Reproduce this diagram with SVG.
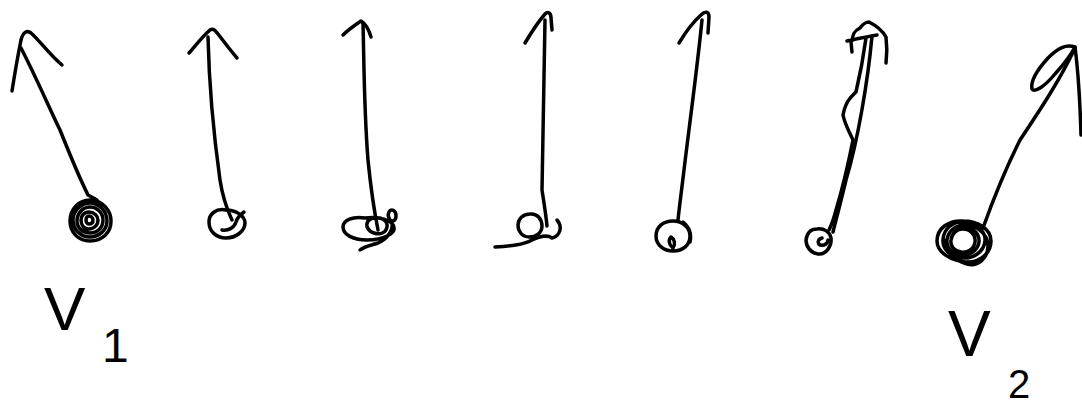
<svg xmlns="http://www.w3.org/2000/svg" width="1082" height="404" viewBox="0 0 1082 404">
<style>
.s{fill:none;stroke:#000;stroke-width:3.5;stroke-linecap:round;stroke-linejoin:round}
.t{font-family:"Liberation Sans",Arial,sans-serif;fill:#000}
</style>
<rect width="1082" height="404" fill="#fff"/>
<g id="v1">
<path class="s" d="M12 91 C15 72 18 55 21 40 C23 32 27 30 31 33 C40 41 50 55 62 65"/>
<path class="s" d="M21 48 C35 75 48 105 60 130 C70 155 78 175 88 195 L97 200"/>
<path class="s" d="M90 200 C102 200 111 210 111 221 C111 233 102 241 90 241 C78 241 70 232 70 221 C70 209 79 200 90 200 Z M90 203 C99 203 107 211 107 221 C107 230 99 237 90 237 C81 237 73 230 73 220 C73 210 82 203 90 203 M90 207 C97 207 103 213 103 220 C103 228 97 233 90 233 C83 233 77 228 77 221 C77 213 83 207 90 207 M89 212 C94 212 98 216 98 220 C98 225 94 229 89 229 C84 229 81 225 81 220 C81 216 84 212 89 212 M89 216 C91 216 93 218 93 220 C93 223 91 224 89 224 C87 224 86 222 86 220 C86 218 87 216 89 216"/>
</g>
<g id="v2">
<path class="s" d="M189 53 C196 45 202 37 210 30 C213 28 215 30 218 34 C225 43 231 51 237 58"/>
<path class="s" d="M208 37 C209 80 213 130 220 180 C224 205 230 215 232 220"/>
<path class="s" d="M226 210 C236 210 245 216 245 223 C245 231 236 238 226 238 C216 238 209 231 209 222 C209 214 216 208 226 210 Z M222 230 C228 231 234 228 236 222 C237 218 240 215 244 212"/>
</g>
<g id="v3">
<path class="s" d="M343 35 C348 30 355 25 361 21 C366 24 369 30 371 37"/>
<path class="s" d="M363 23 C364 60 364 110 368 160 C371 190 375 215 378 230"/>
<path class="s" d="M365 218 C379 216 392 220 394 227 C396 233 384 240 367 240 C352 240 343 234 343 227 C343 220 353 216 365 218 Z M375 218 C382 217 388 221 387 227 C386 233 380 235 374 233 C368 231 365 226 368 221 C370 219 372 218 375 218 M389 212 C391 208 396 210 396 216 C396 221 392 222 390 220 C388 217 388 214 389 212 M392 222 C394 232 385 240 378 243 C372 245 365 246 360 250"/>
</g>
<g id="v4">
<path class="s" d="M525 43 C531 33 538 22 545 14 C548 11 551 13 551 18 L552 30"/>
<path class="s" d="M545 20 C544 70 543 130 542 190 C544 203 546 215 547 226"/>
<path class="s" d="M530 214 C537 213 542 219 542 226 C542 233 536 237 529 237 C522 237 518 231 518 225 C518 219 523 214 530 214 Z M495 247 C510 246 523 245 532 240 C540 236 548 235 552 238 C560 236 563 227 557 220"/>
</g>
<g id="v5">
<path class="s" d="M679 43 C685 33 693 22 701 15 C705 11 709 11 709 17 L708 33"/>
<path class="s" d="M702 20 C697 70 690 120 684 170 C681 195 679 210 678 220"/>
<path class="s" d="M673 221 C683 221 690 228 690 236 C690 245 683 251 673 251 C664 251 656 245 656 236 C656 227 663 221 673 221 Z M673 248 C669 245 668 240 671 237 C674 239 676 243 673 248 M683 222 C688 226 692 233 690 242"/>
</g>
<g id="v6">
<path class="s" d="M847 41 C855 39 866 37 877 35"/>
<path class="s" d="M853 40 C852 36 854 31 860 28 C862 25 866 22 869 22 C875 25 882 30 886 37 C887 45 887 55 886 63"/>
<path class="s" d="M851 42 L852 52"/>
<path class="s" d="M872 36 C868 80 858 140 846 180 C840 205 836 220 833 232"/>
<path class="s" d="M866 38 C863 60 860 75 856 92 C852 96 846 100 843 115 C845 125 850 133 853 140 C848 165 842 190 836 210 C833 222 830 228 829 230"/>
<path class="s" d="M817 229 C824 228 830 232 831 238 C832 246 826 255 818 254 C811 253 806 247 806 240 C807 233 811 229 817 229 Z M822 238 C818 239 817 243 820 245 C825 246 828 243 828 240"/>
</g>
<g id="v7">
<path class="s" d="M1075 47 C1066 44 1058 48 1048 58 C1038 69 1030 80 1032 89 C1035 93 1045 86 1055 74 C1064 64 1071 55 1075 47 Z"/>
<path class="s" d="M1075 47 C1078 70 1080 100 1081 135"/>
<path class="s" d="M1075 48 C1060 80 1040 110 1020 140 C1005 170 993 200 983 228"/>
<path class="s" d="M963 221 C978 221 991 229 991 241 C991 253 980 263 966 262 C952 261 937 253 937 241 C937 228 949 220 963 221 Z M962 222 C974 222 986 230 985 241 C984 252 973 259 962 258 C950 257 942 249 943 239 C944 229 952 222 962 222 M962 226 C971 226 980 233 979 242 C978 250 970 256 961 255 C952 254 946 248 947 240 C948 232 954 226 962 226 M963 229 C970 229 976 235 975 242 C974 249 968 253 961 252 C954 251 950 246 951 240 C952 233 957 229 963 229 M960 225 C975 222 988 234 988 246 C988 258 978 267 967 264 C955 261 945 252 944 240"/>
</g>
<g id="labels">
<text class="t" x="44" y="330" font-size="62">V</text>
<text class="t" x="102" y="362" font-size="48">1</text>
<text class="t" x="948" y="356" font-size="64">V</text>
<text class="t" x="1008" y="398" font-size="40">2</text>
</g>
</svg>
